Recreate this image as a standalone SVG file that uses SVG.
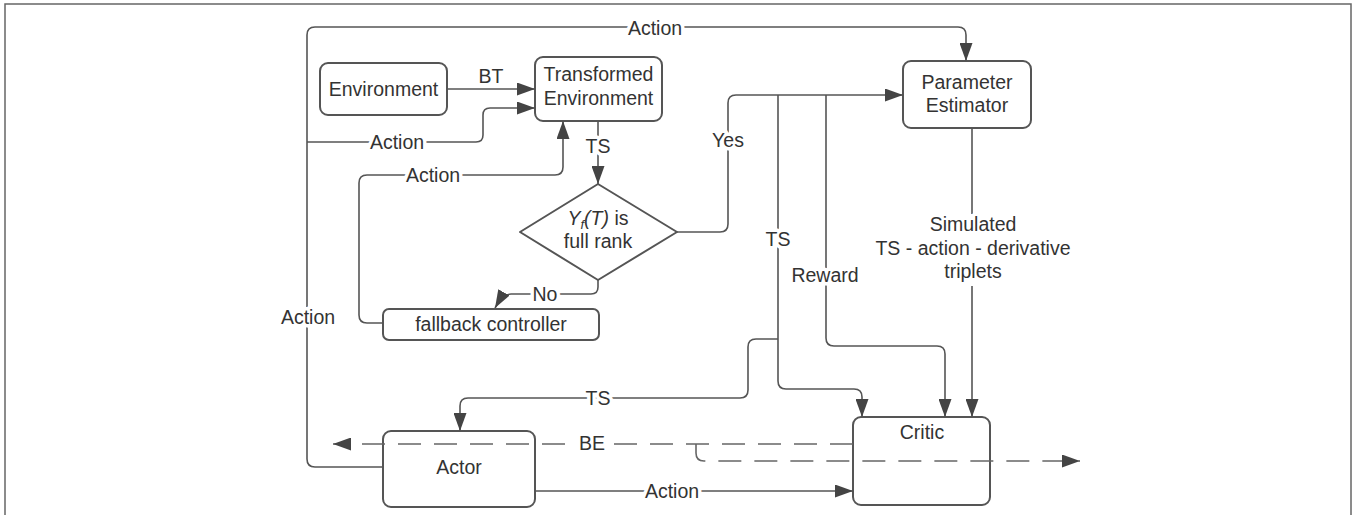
<svg xmlns="http://www.w3.org/2000/svg" width="1357" height="515" viewBox="0 0 1357 515">
<defs>
<style>
.node{fill:#fff;stroke:#555;stroke-width:2}
.t{font-family:"Liberation Sans",Arial,sans-serif;font-size:19.5px;fill:#333;text-anchor:middle}
.lb{font-family:"Liberation Sans",Arial,sans-serif;font-size:19.5px;fill:#333;text-anchor:middle;stroke:#fff;stroke-width:7;paint-order:stroke;stroke-linejoin:round}
.c{fill:none;stroke:#555;stroke-width:1.6}
.d{fill:none;stroke:#666;stroke-width:1.6;stroke-dasharray:23 13}
</style>
<marker id="arr" viewBox="0 0 18 13" refX="18" refY="6.5" markerWidth="18" markerHeight="13" markerUnits="userSpaceOnUse" orient="auto">
<path d="M0,0 L18,6.5 L0,13 z" fill="#444"/>
</marker>
</defs>
<rect x="5" y="4" width="1346" height="530" fill="none" stroke="#666" stroke-width="1.5"/>

<g id="environment"><rect class="node" x="320" y="63" width="127" height="52" rx="8"/><text class="t" x="383.5" y="96">Environment</text></g>
<g id="transformed-environment"><rect class="node" x="535" y="57" width="127" height="64" rx="8"/><text class="t" x="598.5" y="81">Transformed</text><text class="t" x="598.5" y="105">Environment</text></g>
<g id="parameter-estimator"><rect class="node" x="903" y="61" width="128" height="67" rx="8"/><text class="t" x="967" y="89">Parameter</text><text class="t" x="967" y="112">Estimator</text></g>
<g id="full-rank-check"><polygon class="node" points="598,184 677,232 598,280 520,232" stroke-linejoin="round"/><text class="t" x="598" y="225"><tspan font-style="italic">Y</tspan><tspan font-style="italic" font-size="13px" dy="4">f</tspan><tspan font-style="italic" dy="-4">(T)</tspan> is</text><text class="t" x="598" y="248">full rank</text></g>
<g id="fallback-controller"><rect class="node" x="383" y="309" width="216" height="31" rx="6"/><text class="t" x="491" y="331">fallback controller</text></g>
<g id="actor"><rect class="node" x="383" y="431" width="152" height="76" rx="8"/><text class="t" x="459" y="474">Actor</text></g>
<g id="critic"><rect class="node" x="853" y="417" width="137" height="88" rx="8"/><text class="t" x="922" y="439">Critic</text></g>

<g id="connectors">
<path class="c" d="M383,467 H315 Q307,467 307,459 V35 Q307,27 315,27 H958 Q966,27 966,35 V61" marker-end="url(#arr)"/>
<path class="c" d="M447,89 H535" stroke-width="2.6" marker-end="url(#arr)"/>
<path class="c" d="M307,142 H476 Q483,142 483,135 V115 Q483,108 490,108 H535" marker-end="url(#arr)"/>
<path class="c" d="M383,323 H367 Q359,323 359,315 V183 Q359,175 367,175 H555 Q563,175 563,167 V121" marker-end="url(#arr)"/>
<path class="c" d="M598,121 V184" marker-end="url(#arr)"/>
<path class="c" d="M677,232 H720 Q728,232 728,224 V103 Q728,95 736,95 H903" marker-end="url(#arr)"/>
<path class="c" d="M598,280 V287 Q598,294 591,294 H511 Q503,294 495,308" marker-end="url(#arr)"/>
<path class="c" d="M972,128 V417" marker-end="url(#arr)"/>
<path class="c" d="M778,95 V381 Q778,389 786,389 H854 Q862,389 862,397 V417" marker-end="url(#arr)"/>
<path class="c" d="M826,95 V338 Q826,346 834,346 H937 Q945,346 945,354 V417" marker-end="url(#arr)"/>
<path class="c" d="M778,339 H756 Q748,339 748,347 V390 Q748,398 740,398 H468 Q460,398 460,406 V431" marker-end="url(#arr)"/>
<path class="d" d="M853,444 H333" marker-end="url(#arr)"/>
<path class="d" d="M696,444 V453 Q696,461 704,461 H1080" marker-end="url(#arr)"/>
<path class="c" d="M535,491 H853" marker-end="url(#arr)"/>
<text class="lb" x="655" y="35">Action</text>
<text class="lb" x="308" y="324">Action</text>
<text class="t" x="491" y="83">BT</text>
<text class="lb" x="397" y="149">Action</text>
<text class="lb" x="433" y="182">Action</text>
<text class="lb" x="598" y="153">TS</text>
<text class="lb" x="728" y="147">Yes</text>
<text class="lb" x="545" y="301">No</text>
<rect x="940" y="214" width="66" height="72" fill="#fff"/>
<text class="lb" x="973" y="231">Simulated</text>
<text class="lb" x="973" y="255">TS - action - derivative</text>
<text class="lb" x="973" y="278">triplets</text>
<text class="lb" x="778" y="246">TS</text>
<text class="lb" x="825" y="282">Reward</text>
<text class="lb" x="598" y="405">TS</text>
<text class="lb" x="592" y="450">BE</text>
<text class="lb" x="672" y="498">Action</text>
</g>
</svg>
